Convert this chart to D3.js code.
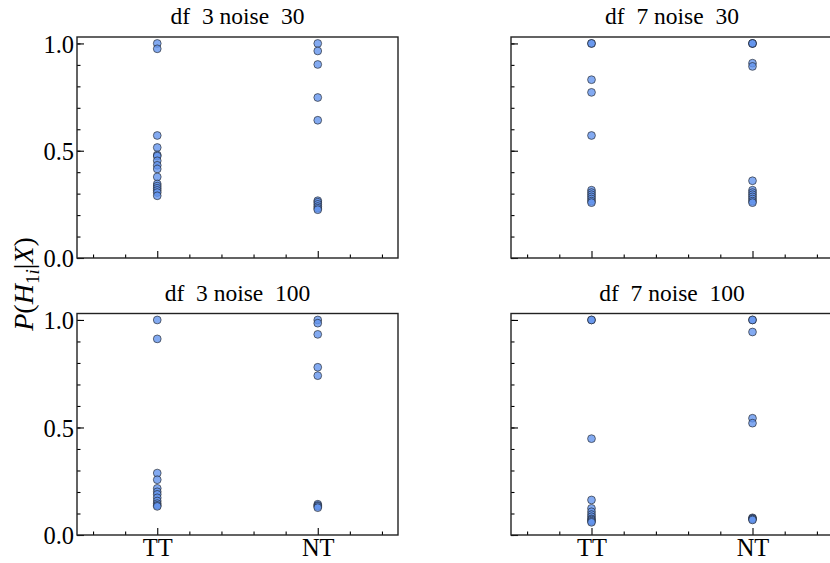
<!DOCTYPE html>
<html>
<head>
<meta charset="utf-8">
<script src="https://cdn.jsdelivr.net/npm/d3@7"></script>
<style>
  body { margin: 0; background: #fff; }
  svg { display: block; }
  text { font-family: "Liberation Serif", "Times New Roman", serif; fill: #000; }
</style>
</head>
<body>
<svg id="chart" width="830" height="563"></svg>
<script>
// categories on the x axis
const categories = ["TT", "NT"]

// panel titles
const titles = ["df  3 noise  30", "df  7 noise  30", "df  3 noise  100", "df  7 noise  100"]

// P(H1i|X) values per panel, per category
const df3n30TT = [1.0, 0.975, 0.571, 0.515, 0.48, 0.475, 0.453, 0.432, 0.415, 0.378, 0.345, 0.335, 0.325, 0.315, 0.305, 0.29]
const df3n30NT = [1.0, 0.965, 0.902, 0.748, 0.642, 0.267, 0.26, 0.25, 0.24, 0.232, 0.225]
const df7n30TT = [1.0, 1.0, 0.831, 0.772, 0.571, 0.316, 0.305, 0.295, 0.285, 0.275, 0.265, 0.258]
const df7n30NT = [1.0, 1.0, 1.0, 0.908, 0.893, 0.36, 0.316, 0.305, 0.295, 0.285, 0.275, 0.265, 0.258]
const df3n100TT = [1.0, 0.912, 0.288, 0.257, 0.217, 0.201, 0.189, 0.173, 0.158, 0.146, 0.138, 0.133]
const df3n100NT = [1.0, 0.985, 0.933, 0.78, 0.741, 0.143, 0.137, 0.133, 0.127]
const df7n100TT = [1.0, 1.0, 0.448, 0.163, 0.124, 0.108, 0.095, 0.085, 0.075, 0.07, 0.064, 0.059]
const df7n100NT = [1.0, 1.0, 0.944, 0.543, 0.52, 0.08, 0.077, 0.074, 0.07]

const yMajor = [0, 0.5, 1.0]
const yMinor = d3.range(0, 1.01, 0.1)
const xMinor = [-0.4, -0.2, 0.2, 0.4, 0.6, 0.8, 1.2, 1.4]

const panels = [
  {title: titles[0], series: [df3n30TT, df3n30NT], col: 0, row: 0},
  {title: titles[1], series: [df7n30TT, df7n30NT], col: 1, row: 0},
  {title: titles[2], series: [df3n100TT, df3n100NT], col: 0, row: 1},
  {title: titles[3], series: [df7n100TT, df7n100NT], col: 1, row: 1}
]

const colX = [[77, 398], [511, 833]]
const rowY = [[37, 258], [313.5, 535]]

const svg = d3.select("#chart")

panels.forEach(p => {
  const [x0, x1] = colX[p.col]
  const [y0, y1] = rowY[p.row]

  const x = d3.scaleLinear().domain([-0.5, 1.5]).range([x0, x1])
  const y = d3.scaleLinear().domain([0, 1.03]).range([y1, y0])

  const g = svg.append("g")

  // minor ticks
  g.append("g")
    .attr("transform", `translate(${x0},0)`)
    .call(d3.axisLeft(y).tickValues(yMinor).tickSize(-3.5).tickFormat(""))
    .call(a => a.select(".domain").remove())
  g.append("g")
    .attr("transform", `translate(0,${y1})`)
    .call(d3.axisBottom(x).tickValues(xMinor).tickSize(-3.5).tickFormat(""))
    .call(a => a.select(".domain").remove())

  // major ticks
  const yAxis = g.append("g")
    .attr("transform", `translate(${x0},0)`)
    .call(d3.axisLeft(y).tickValues(yMajor).tickSize(-7).tickPadding(3)
      .tickFormat(p.col === 0 ? d3.format(".1f") : ""))
  yAxis.select(".domain").remove()
  yAxis.selectAll("text").attr("font-size", 24.5).attr("font-family", null).attr("dy", "0.35em")

  const xAxis = g.append("g")
    .attr("transform", `translate(0,${y1})`)
    .call(d3.axisBottom(x).tickValues([0, 1]).tickSize(-7).tickPadding(4)
      .tickFormat(p.row === 1 ? (d => categories[d]) : ""))
  xAxis.select(".domain").remove()
  xAxis.selectAll("text").attr("font-size", 24.5).attr("font-family", null)

  g.selectAll(".tick line").attr("stroke", "#000").attr("stroke-width", 1.1)

  // points
  p.series.forEach((vals, ci) => {
    g.append("g").selectAll("circle")
      .data(vals)
      .enter().append("circle")
        .attr("cx", x(ci))
        .attr("cy", d => y(d))
        .attr("r", 3.9)
        .attr("fill", "#6495ED")
        .attr("fill-opacity", 0.8)
        .attr("stroke", "#1a1a1a")
        .attr("stroke-opacity", 0.75)
        .attr("stroke-width", 0.8)
  })

  // frame
  g.append("rect")
    .attr("x", x0).attr("y", y0)
    .attr("width", x1 - x0).attr("height", y1 - y0)
    .attr("fill", "none")
    .attr("stroke", "#222")
    .attr("stroke-width", 1.4)

  // title
  g.append("text")
    .attr("x", (x0 + x1) / 2)
    .attr("y", y0 - 13)
    .attr("text-anchor", "middle")
    .attr("font-size", 23.5)
    .style("white-space", "pre")
    .text(p.title)
})

// y label
const yl = svg.append("text")
  .attr("transform", "translate(33,284) rotate(-90)")
  .attr("text-anchor", "middle")
  .attr("font-size", 28)
yl.append("tspan").attr("font-style", "italic").text("P")
yl.append("tspan").text("(")
yl.append("tspan").attr("font-style", "italic").text("H")
yl.append("tspan").attr("font-size", 19).attr("dy", 6).text("1")
yl.append("tspan").attr("font-size", 19).attr("font-style", "italic").text("i")
yl.append("tspan").attr("dy", -6).text("|")
yl.append("tspan").attr("font-style", "italic").text("X")
yl.append("tspan").text(")")
</script>
</body>
</html>
